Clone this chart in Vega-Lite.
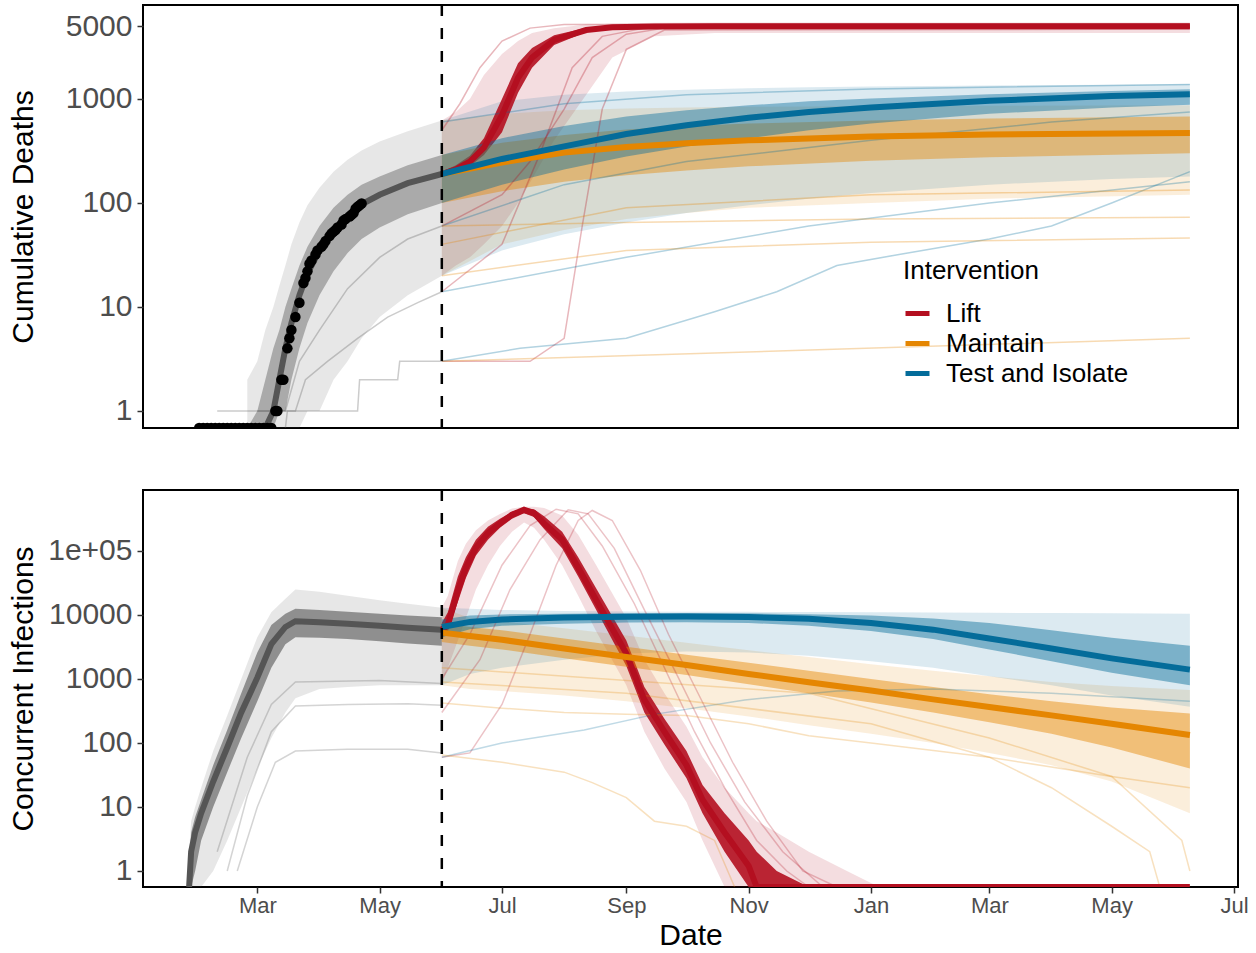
{
"$schema": "https://vega.github.io/schema/vega-lite/v6.json",
"background": "white",
"padding": {"left": 6, "top": 2, "right": 0, "bottom": 0},
"config": {
  "font": "Liberation Sans",
  "view": {"stroke": "black", "strokeWidth": 2},
  "axis": {"domain": false, "grid": false, "labelColor": "#4D4D4D", "tickColor": "#333333", "tickWidth": 1.5, "tickSize": 6, "titleColor": "black", "titleFontWeight": "normal", "titleFontSize": 30},
  "legend": {"orient": "none", "legendX": 760, "legendY": 253, "symbolType": "stroke", "symbolStrokeWidth": 5, "symbolSize": 576, "labelFontSize": 26, "titleFontSize": 26, "titleFontWeight": "normal", "labelColor": "black", "titleColor": "black", "labelOffset": 14, "labelLimit": 0, "rowPadding": 2, "titlePadding": 15}
},
"bounds": "flush",
"spacing": 62,
"resolve": {"scale": {"x": "independent", "y": "independent", "color": "independent", "fill": "independent", "stroke": "independent"}, "legend": {"color": "independent"}},
"datasets": {
"obs": [
{"t":"2020-02-01","deaths":0.686},{"t":"2020-02-03","deaths":0.686},{"t":"2020-02-05","deaths":0.686},{"t":"2020-02-07","deaths":0.686},{"t":"2020-02-09","deaths":0.686},{"t":"2020-02-11","deaths":0.686},{"t":"2020-02-13","deaths":0.686},{"t":"2020-02-15","deaths":0.686},{"t":"2020-02-17","deaths":0.686},{"t":"2020-02-19","deaths":0.686},{"t":"2020-02-21","deaths":0.686},{"t":"2020-02-23","deaths":0.686},{"t":"2020-02-25","deaths":0.686},{"t":"2020-02-27","deaths":0.686},{"t":"2020-02-29","deaths":0.686},{"t":"2020-03-02","deaths":0.686},{"t":"2020-03-04","deaths":0.686},{"t":"2020-03-06","deaths":0.686},{"t":"2020-03-08","deaths":0.686},
{"t":"2020-03-10","deaths":1},{"t":"2020-03-11","deaths":1},{"t":"2020-03-13","deaths":2},{"t":"2020-03-14","deaths":2},{"t":"2020-03-16","deaths":4},{"t":"2020-03-17","deaths":5},{"t":"2020-03-18","deaths":6},{"t":"2020-03-20","deaths":8},{"t":"2020-03-22","deaths":11},{"t":"2020-03-24","deaths":17},{"t":"2020-03-25","deaths":19},{"t":"2020-03-26","deaths":22},{"t":"2020-03-27","deaths":26},{"t":"2020-03-28","deaths":28},{"t":"2020-03-30","deaths":32},{"t":"2020-03-31","deaths":35},{"t":"2020-04-02","deaths":38},{"t":"2020-04-03","deaths":40},{"t":"2020-04-04","deaths":43},{"t":"2020-04-06","deaths":48},{"t":"2020-04-07","deaths":51},{"t":"2020-04-08","deaths":53},{"t":"2020-04-09","deaths":55},{"t":"2020-04-10","deaths":58},{"t":"2020-04-12","deaths":62},{"t":"2020-04-13","deaths":68},{"t":"2020-04-14","deaths":70},{"t":"2020-04-16","deaths":74},{"t":"2020-04-17","deaths":77},{"t":"2020-04-18","deaths":80},{"t":"2020-04-19","deaths":88},{"t":"2020-04-20","deaths":92},{"t":"2020-04-21","deaths":95},{"t":"2020-04-22","deaths":99}
],
"bandsD": [
{"t":"2020-02-25","g":"Gray","olo":0.686,"ilo":0.686,"med":0.686,"ihi":0.686,"ohi":2},
{"t":"2020-03-01","g":"Gray","olo":0.686,"ilo":0.686,"med":0.686,"ihi":1,"ohi":3},
{"t":"2020-03-05","g":"Gray","olo":0.686,"ilo":0.686,"med":0.686,"ihi":2,"ohi":6},
{"t":"2020-03-09","g":"Gray","olo":0.686,"ilo":0.686,"med":1,"ihi":4,"ohi":10},
{"t":"2020-03-12","g":"Gray","olo":0.686,"ilo":1,"med":2,"ihi":6,"ohi":16},
{"t":"2020-03-15","g":"Gray","olo":0.686,"ilo":1,"med":4,"ihi":10,"ohi":25},
{"t":"2020-03-18","g":"Gray","olo":0.686,"ilo":2,"med":7,"ihi":15,"ohi":40},
{"t":"2020-03-22","g":"Gray","olo":0.686,"ilo":4,"med":13,"ihi":25,"ohi":65},
{"t":"2020-03-26","g":"Gray","olo":1,"ilo":7,"med":21,"ihi":38,"ohi":95},
{"t":"2020-04-01","g":"Gray","olo":1,"ilo":13,"med":35,"ihi":60,"ohi":140},
{"t":"2020-04-08","g":"Gray","olo":2,"ilo":22,"med":55,"ihi":90,"ohi":200},
{"t":"2020-04-15","g":"Gray","olo":3,"ilo":33,"med":75,"ihi":120,"ohi":260},
{"t":"2020-04-22","g":"Gray","olo":5,"ilo":45,"med":97,"ihi":150,"ohi":320},
{"t":"2020-05-01","g":"Gray","olo":8,"ilo":58,"med":120,"ihi":180,"ohi":390},
{"t":"2020-05-15","g":"Gray","olo":13,"ilo":78,"med":155,"ihi":230,"ohi":490},
{"t":"2020-06-01","g":"Gray","olo":20,"ilo":100,"med":190,"ihi":290,"ohi":620},
{"t":"2020-06-01","g":"Lift","olo":20,"ilo":180,"med":190,"ihi":200,"ohi":620},
{"t":"2020-06-08","g":"Lift","olo":25,"ilo":195,"med":210,"ihi":230,"ohi":750},
{"t":"2020-06-15","g":"Lift","olo":30,"ilo":225,"med":250,"ihi":285,"ohi":1000},
{"t":"2020-06-22","g":"Lift","olo":40,"ilo":290,"med":340,"ihi":420,"ohi":1700},
{"t":"2020-07-01","g":"Lift","olo":60,"ilo":480,"med":700,"ihi":1000,"ohi":2700},
{"t":"2020-07-09","g":"Lift","olo":100,"ilo":1150,"med":1600,"ihi":2200,"ohi":3600},
{"t":"2020-07-16","g":"Lift","olo":170,"ilo":2000,"med":2500,"ihi":3100,"ohi":4300},
{"t":"2020-07-27","g":"Lift","olo":400,"ilo":3300,"med":3700,"ihi":4100,"ohi":4800},
{"t":"2020-08-12","g":"Lift","olo":1100,"ilo":4400,"med":4600,"ihi":4850,"ohi":5200},
{"t":"2020-08-25","g":"Lift","olo":2500,"ilo":4700,"med":4900,"ihi":5050,"ohi":5300},
{"t":"2020-09-15","g":"Lift","olo":4000,"ilo":4800,"med":4980,"ihi":5150,"ohi":5400},
{"t":"2020-10-15","g":"Lift","olo":4300,"ilo":4800,"med":5000,"ihi":5200,"ohi":5450},
{"t":"2021-06-09","g":"Lift","olo":4300,"ilo":4800,"med":5000,"ihi":5200,"ohi":5450},
{"t":"2020-06-01","g":"Maintain","olo":20,"ilo":100,"med":190,"ihi":290,"ohi":620},
{"t":"2020-07-01","g":"Maintain","olo":40,"ilo":130,"med":245,"ihi":380,"ohi":720},
{"t":"2020-08-01","g":"Maintain","olo":55,"ilo":160,"med":305,"ihi":450,"ohi":780},
{"t":"2020-09-01","g":"Maintain","olo":70,"ilo":185,"med":345,"ihi":510,"ohi":810},
{"t":"2020-10-01","g":"Maintain","olo":80,"ilo":205,"med":375,"ihi":550,"ohi":830},
{"t":"2020-11-01","g":"Maintain","olo":90,"ilo":225,"med":400,"ihi":580,"ohi":840},
{"t":"2021-01-01","g":"Maintain","olo":100,"ilo":255,"med":435,"ihi":620,"ohi":850},
{"t":"2021-03-01","g":"Maintain","olo":110,"ilo":275,"med":455,"ihi":650,"ohi":860},
{"t":"2021-06-09","g":"Maintain","olo":120,"ilo":300,"med":470,"ihi":680,"ohi":870},
{"t":"2020-06-01","g":"Test and Isolate","olo":20,"ilo":100,"med":190,"ihi":290,"ohi":620},
{"t":"2020-07-01","g":"Test and Isolate","olo":35,"ilo":150,"med":265,"ihi":420,"ohi":950},
{"t":"2020-08-01","g":"Test and Isolate","olo":50,"ilo":210,"med":350,"ihi":550,"ohi":1100},
{"t":"2020-09-01","g":"Test and Isolate","olo":65,"ilo":280,"med":460,"ihi":680,"ohi":1180},
{"t":"2020-10-01","g":"Test and Isolate","olo":80,"ilo":350,"med":560,"ihi":780,"ohi":1230},
{"t":"2020-11-01","g":"Test and Isolate","olo":95,"ilo":420,"med":660,"ihi":870,"ohi":1270},
{"t":"2020-12-01","g":"Test and Isolate","olo":110,"ilo":500,"med":750,"ihi":950,"ohi":1300},
{"t":"2021-01-01","g":"Test and Isolate","olo":125,"ilo":580,"med":830,"ihi":1010,"ohi":1320},
{"t":"2021-03-01","g":"Test and Isolate","olo":150,"ilo":720,"med":960,"ihi":1110,"ohi":1350},
{"t":"2021-05-01","g":"Test and Isolate","olo":170,"ilo":830,"med":1070,"ihi":1190,"ohi":1370},
{"t":"2021-06-09","g":"Test and Isolate","olo":180,"ilo":880,"med":1110,"ihi":1240,"ohi":1390}
],
"runsD": [
{"t":"2020-03-01","g":"Gray","r":"gA","v":1},{"t":"2020-03-20","g":"Gray","r":"gA","v":1},{"t":"2020-03-25","g":"Gray","r":"gA","v":2},{"t":"2020-04-05","g":"Gray","r":"gA","v":3},{"t":"2020-04-20","g":"Gray","r":"gA","v":5},{"t":"2020-05-05","g":"Gray","r":"gA","v":8},{"t":"2020-05-20","g":"Gray","r":"gA","v":11},{"t":"2020-06-01","g":"Gray","r":"gA","v":14},
{"t":"2020-02-10","g":"Gray","r":"gB","v":1},{"t":"2020-03-15","g":"Gray","r":"gB","v":1},{"t":"2020-03-22","g":"Gray","r":"gB","v":3},{"t":"2020-04-01","g":"Gray","r":"gB","v":6},{"t":"2020-04-15","g":"Gray","r":"gB","v":15},{"t":"2020-05-01","g":"Gray","r":"gB","v":30},{"t":"2020-05-15","g":"Gray","r":"gB","v":45},{"t":"2020-06-01","g":"Gray","r":"gB","v":60},
{"t":"2020-03-15","g":"Gray","r":"gC","v":0.686},{"t":"2020-03-16","g":"Gray","r":"gC","v":1},{"t":"2020-04-20","g":"Gray","r":"gC","v":1},{"t":"2020-04-21","g":"Gray","r":"gC","v":2},{"t":"2020-05-10","g":"Gray","r":"gC","v":2},{"t":"2020-05-11","g":"Gray","r":"gC","v":3},{"t":"2020-06-01","g":"Gray","r":"gC","v":3},
{"t":"2020-06-01","g":"Lift","r":"rA","v":60},{"t":"2020-07-01","g":"Lift","r":"rA","v":120},{"t":"2020-07-15","g":"Lift","r":"rA","v":250},{"t":"2020-08-01","g":"Lift","r":"rA","v":800},{"t":"2020-08-15","g":"Lift","r":"rA","v":2500},{"t":"2020-09-01","g":"Lift","r":"rA","v":4200},{"t":"2020-09-20","g":"Lift","r":"rA","v":4800},{"t":"2021-06-09","g":"Lift","r":"rA","v":4850},
{"t":"2020-06-01","g":"Lift","r":"rB","v":3},{"t":"2020-07-15","g":"Lift","r":"rB","v":3},{"t":"2020-08-01","g":"Lift","r":"rB","v":5},{"t":"2020-08-10","g":"Lift","r":"rB","v":60},{"t":"2020-08-20","g":"Lift","r":"rB","v":800},{"t":"2020-09-01","g":"Lift","r":"rB","v":3000},{"t":"2020-09-20","g":"Lift","r":"rB","v":4600},{"t":"2021-06-09","g":"Lift","r":"rB","v":4700},
{"t":"2020-06-01","g":"Lift","r":"rC","v":500},{"t":"2020-06-10","g":"Lift","r":"rC","v":900},{"t":"2020-06-20","g":"Lift","r":"rC","v":2000},{"t":"2020-07-01","g":"Lift","r":"rC","v":3600},{"t":"2020-07-15","g":"Lift","r":"rC","v":4800},{"t":"2020-08-01","g":"Lift","r":"rC","v":5200},{"t":"2021-06-09","g":"Lift","r":"rC","v":5300},
{"t":"2020-06-01","g":"Lift","r":"rD","v":14},{"t":"2020-07-01","g":"Lift","r":"rD","v":40},{"t":"2020-07-20","g":"Lift","r":"rD","v":300},{"t":"2020-08-05","g":"Lift","r":"rD","v":2000},{"t":"2020-08-20","g":"Lift","r":"rD","v":4000},{"t":"2020-09-10","g":"Lift","r":"rD","v":4800},{"t":"2021-06-09","g":"Lift","r":"rD","v":4900},
{"t":"2020-06-01","g":"Test and Isolate","r":"bA","v":3},{"t":"2020-07-10","g":"Test and Isolate","r":"bA","v":4},{"t":"2020-09-01","g":"Test and Isolate","r":"bA","v":5},{"t":"2020-10-15","g":"Test and Isolate","r":"bA","v":9},{"t":"2020-11-15","g":"Test and Isolate","r":"bA","v":14},{"t":"2020-12-15","g":"Test and Isolate","r":"bA","v":25},{"t":"2021-01-15","g":"Test and Isolate","r":"bA","v":32},{"t":"2021-03-01","g":"Test and Isolate","r":"bA","v":45},{"t":"2021-04-01","g":"Test and Isolate","r":"bA","v":60},{"t":"2021-05-01","g":"Test and Isolate","r":"bA","v":100},{"t":"2021-06-09","g":"Test and Isolate","r":"bA","v":200},
{"t":"2020-06-01","g":"Test and Isolate","r":"bB","v":600},{"t":"2020-08-01","g":"Test and Isolate","r":"bB","v":900},{"t":"2020-10-01","g":"Test and Isolate","r":"bB","v":1100},{"t":"2021-01-01","g":"Test and Isolate","r":"bB","v":1250},{"t":"2021-06-09","g":"Test and Isolate","r":"bB","v":1380},
{"t":"2020-06-01","g":"Test and Isolate","r":"bC","v":60},{"t":"2020-08-01","g":"Test and Isolate","r":"bC","v":150},{"t":"2020-10-01","g":"Test and Isolate","r":"bC","v":250},{"t":"2021-01-01","g":"Test and Isolate","r":"bC","v":400},{"t":"2021-04-01","g":"Test and Isolate","r":"bC","v":600},{"t":"2021-06-09","g":"Test and Isolate","r":"bC","v":750},
{"t":"2020-06-01","g":"Test and Isolate","r":"bD","v":14},{"t":"2020-09-01","g":"Test and Isolate","r":"bD","v":30},{"t":"2020-12-01","g":"Test and Isolate","r":"bD","v":60},{"t":"2021-03-01","g":"Test and Isolate","r":"bD","v":100},{"t":"2021-06-09","g":"Test and Isolate","r":"bD","v":160},
{"t":"2020-06-01","g":"Maintain","r":"oA","v":20},{"t":"2020-09-01","g":"Maintain","r":"oA","v":35},{"t":"2021-01-01","g":"Maintain","r":"oA","v":42},{"t":"2021-06-09","g":"Maintain","r":"oA","v":46},
{"t":"2020-06-01","g":"Maintain","r":"oB","v":60},{"t":"2020-09-01","g":"Maintain","r":"oB","v":65},{"t":"2021-01-01","g":"Maintain","r":"oB","v":70},{"t":"2021-06-09","g":"Maintain","r":"oB","v":73},
{"t":"2020-06-01","g":"Maintain","r":"oC","v":3},{"t":"2021-06-09","g":"Maintain","r":"oC","v":5},
{"t":"2020-06-01","g":"Maintain","r":"oD","v":40},{"t":"2020-09-01","g":"Maintain","r":"oD","v":90},{"t":"2021-01-01","g":"Maintain","r":"oD","v":120},{"t":"2021-06-09","g":"Maintain","r":"oD","v":133}
],
"bandsI": [
{"t":"2020-01-27","g":"Gray","olo":0.562,"ilo":0.562,"med":0.562,"ihi":1,"ohi":2},
{"t":"2020-01-28","g":"Gray","olo":0.562,"ilo":0.562,"med":2,"ihi":4,"ohi":6},
{"t":"2020-01-30","g":"Gray","olo":0.562,"ilo":1,"med":4,"ihi":7,"ohi":10},
{"t":"2020-02-02","g":"Gray","olo":0.562,"ilo":3,"med":8,"ihi":13,"ohi":20},
{"t":"2020-02-08","g":"Gray","olo":1,"ilo":10,"med":25,"ihi":45,"ohi":75},
{"t":"2020-02-15","g":"Gray","olo":3,"ilo":35,"med":85,"ihi":160,"ohi":270},
{"t":"2020-02-22","g":"Gray","olo":10,"ilo":120,"med":300,"ihi":600,"ohi":1000},
{"t":"2020-03-01","g":"Gray","olo":40,"ilo":450,"med":1050,"ihi":2600,"ohi":4500},
{"t":"2020-03-08","g":"Gray","olo":120,"ilo":1500,"med":3500,"ihi":7000,"ohi":11000},
{"t":"2020-03-15","g":"Gray","olo":300,"ilo":3500,"med":6500,"ihi":10500,"ohi":18000},
{"t":"2020-03-20","g":"Gray","olo":500,"ilo":4500,"med":8000,"ihi":12500,"ohi":25000},
{"t":"2020-04-01","g":"Gray","olo":700,"ilo":4400,"med":7700,"ihi":12000,"ohi":23000},
{"t":"2020-04-15","g":"Gray","olo":750,"ilo":4200,"med":7300,"ihi":11200,"ohi":20000},
{"t":"2020-05-01","g":"Gray","olo":800,"ilo":3900,"med":6800,"ihi":10500,"ohi":17000},
{"t":"2020-05-15","g":"Gray","olo":800,"ilo":3600,"med":6300,"ihi":9800,"ohi":15000},
{"t":"2020-06-01","g":"Gray","olo":800,"ilo":3300,"med":5900,"ihi":9200,"ohi":13000},
{"t":"2020-06-01","g":"Lift","olo":800,"ilo":4500,"med":5900,"ihi":7500,"ohi":13000},
{"t":"2020-06-04","g":"Lift","olo":1500,"ilo":5500,"med":7000,"ihi":11000,"ohi":20000},
{"t":"2020-06-09","g":"Lift","olo":4000,"ilo":16000,"med":24000,"ihi":40000,"ohi":70000},
{"t":"2020-06-13","g":"Lift","olo":9000,"ilo":38000,"med":55000,"ihi":80000,"ohi":130000},
{"t":"2020-06-18","g":"Lift","olo":25000,"ilo":85000,"med":113000,"ihi":150000,"ohi":210000},
{"t":"2020-06-24","g":"Lift","olo":60000,"ilo":150000,"med":190000,"ihi":240000,"ohi":300000},
{"t":"2020-06-30","g":"Lift","olo":120000,"ilo":230000,"med":270000,"ihi":320000,"ohi":380000},
{"t":"2020-07-06","g":"Lift","olo":200000,"ilo":320000,"med":370000,"ihi":410000,"ohi":460000},
{"t":"2020-07-12","g":"Lift","olo":280000,"ilo":390000,"med":440000,"ihi":470000,"ohi":490000},
{"t":"2020-07-17","g":"Lift","olo":230000,"ilo":340000,"med":390000,"ihi":450000,"ohi":490000},
{"t":"2020-07-22","g":"Lift","olo":150000,"ilo":220000,"med":270000,"ihi":350000,"ohi":470000},
{"t":"2020-07-31","g":"Lift","olo":60000,"ilo":110000,"med":150000,"ihi":200000,"ohi":360000},
{"t":"2020-08-08","g":"Lift","olo":20000,"ilo":40000,"med":55000,"ihi":80000,"ohi":180000},
{"t":"2020-08-17","g":"Lift","olo":5500,"ilo":12000,"med":17000,"ihi":26000,"ohi":60000},
{"t":"2020-09-01","g":"Lift","olo":800,"ilo":1600,"med":2500,"ihi":4000,"ohi":9000},
{"t":"2020-09-10","g":"Lift","olo":150,"ilo":300,"med":470,"ihi":750,"ohi":2000},
{"t":"2020-09-20","g":"Lift","olo":40,"ilo":95,"med":150,"ihi":240,"ohi":600},
{"t":"2020-10-01","g":"Lift","olo":12,"ilo":28,"med":45,"ihi":75,"ohi":180},
{"t":"2020-10-09","g":"Lift","olo":3,"ilo":8,"med":13,"ihi":22,"ohi":60},
{"t":"2020-10-20","g":"Lift","olo":0.562,"ilo":2,"med":4,"ihi":8,"ohi":20},
{"t":"2020-11-01","g":"Lift","olo":0.562,"ilo":0.562,"med":1.2,"ihi":3,"ohi":8},
{"t":"2020-11-05","g":"Lift","olo":0.562,"ilo":0.562,"med":0.562,"ihi":2,"ohi":6},
{"t":"2020-11-15","g":"Lift","olo":0.562,"ilo":0.562,"med":0.562,"ihi":1,"ohi":4},
{"t":"2020-12-01","g":"Lift","olo":0.562,"ilo":0.562,"med":0.562,"ihi":0.562,"ohi":2},
{"t":"2020-12-20","g":"Lift","olo":0.562,"ilo":0.562,"med":0.562,"ihi":0.562,"ohi":1},
{"t":"2021-01-05","g":"Lift","olo":0.562,"ilo":0.562,"med":0.562,"ihi":0.562,"ohi":0.562},
{"t":"2021-06-09","g":"Lift","olo":0.562,"ilo":0.562,"med":0.562,"ihi":0.562,"ohi":0.562},
{"t":"2020-06-01","g":"Maintain","olo":800,"ilo":3800,"med":5300,"ihi":7500,"ohi":13000},
{"t":"2020-06-15","g":"Maintain","olo":700,"ilo":3300,"med":4700,"ihi":6500,"ohi":9000},
{"t":"2020-07-01","g":"Maintain","olo":650,"ilo":2900,"med":4100,"ihi":5800,"ohi":8000},
{"t":"2020-08-01","g":"Maintain","olo":550,"ilo":2100,"med":3000,"ihi":4300,"ohi":6200},
{"t":"2020-09-01","g":"Maintain","olo":450,"ilo":1550,"med":2200,"ihi":3200,"ohi":4800},
{"t":"2020-10-01","g":"Maintain","olo":350,"ilo":1150,"med":1650,"ihi":2400,"ohi":3700},
{"t":"2020-11-01","g":"Maintain","olo":260,"ilo":830,"med":1200,"ihi":1800,"ohi":2800},
{"t":"2020-12-01","g":"Maintain","olo":190,"ilo":600,"med":890,"ihi":1350,"ohi":2200},
{"t":"2021-01-01","g":"Maintain","olo":140,"ilo":430,"med":660,"ihi":1000,"ohi":1700},
{"t":"2021-02-01","g":"Maintain","olo":100,"ilo":300,"med":480,"ihi":750,"ohi":1350},
{"t":"2021-03-01","g":"Maintain","olo":70,"ilo":210,"med":365,"ihi":580,"ohi":1100},
{"t":"2021-04-01","g":"Maintain","olo":45,"ilo":140,"med":270,"ihi":450,"ohi":900},
{"t":"2021-05-01","g":"Maintain","olo":25,"ilo":85,"med":200,"ihi":360,"ohi":780},
{"t":"2021-06-09","g":"Maintain","olo":8,"ilo":40,"med":133,"ihi":290,"ohi":670},
{"t":"2020-06-01","g":"Test and Isolate","olo":800,"ilo":4500,"med":6500,"ihi":8500,"ohi":13000},
{"t":"2020-06-15","g":"Test and Isolate","olo":1200,"ilo":6000,"med":7800,"ihi":9800,"ohi":12500},
{"t":"2020-07-01","g":"Test and Isolate","olo":1500,"ilo":6800,"med":8500,"ihi":10200,"ohi":12000},
{"t":"2020-08-01","g":"Test and Isolate","olo":2000,"ilo":7300,"med":9100,"ihi":10500,"ohi":11500},
{"t":"2020-09-01","g":"Test and Isolate","olo":2500,"ilo":7600,"med":9400,"ihi":10600,"ohi":11300},
{"t":"2020-10-01","g":"Test and Isolate","olo":2700,"ilo":7700,"med":9500,"ihi":10700,"ohi":11200},
{"t":"2020-11-01","g":"Test and Isolate","olo":2600,"ilo":7500,"med":9300,"ihi":10600,"ohi":11200},
{"t":"2020-12-01","g":"Test and Isolate","olo":2300,"ilo":6800,"med":8700,"ihi":10300,"ohi":11100},
{"t":"2021-01-01","g":"Test and Isolate","olo":1900,"ilo":5600,"med":7500,"ihi":9800,"ohi":11000},
{"t":"2021-02-01","g":"Test and Isolate","olo":1500,"ilo":4200,"med":5900,"ihi":8800,"ohi":10900},
{"t":"2021-03-01","g":"Test and Isolate","olo":1100,"ilo":2900,"med":4300,"ihi":7500,"ohi":10800},
{"t":"2021-04-01","g":"Test and Isolate","olo":800,"ilo":1900,"med":3000,"ihi":5800,"ohi":10700},
{"t":"2021-05-01","g":"Test and Isolate","olo":550,"ilo":1250,"med":2100,"ihi":4400,"ohi":10600},
{"t":"2021-06-09","g":"Test and Isolate","olo":370,"ilo":800,"med":1400,"ihi":3300,"ohi":10500}
],
"runsI": [
{"t":"2020-02-20","g":"Gray","r":"gL1","v":1},{"t":"2020-03-01","g":"Gray","r":"gL1","v":10},{"t":"2020-03-10","g":"Gray","r":"gL1","v":50},{"t":"2020-03-20","g":"Gray","r":"gL1","v":75},{"t":"2020-04-15","g":"Gray","r":"gL1","v":80},{"t":"2020-05-15","g":"Gray","r":"gL1","v":80},{"t":"2020-06-01","g":"Gray","r":"gL1","v":70},
{"t":"2020-02-15","g":"Gray","r":"gL2","v":1},{"t":"2020-02-25","g":"Gray","r":"gL2","v":15},{"t":"2020-03-08","g":"Gray","r":"gL2","v":150},{"t":"2020-03-20","g":"Gray","r":"gL2","v":380},{"t":"2020-04-15","g":"Gray","r":"gL2","v":400},{"t":"2020-05-15","g":"Gray","r":"gL2","v":410},{"t":"2020-06-01","g":"Gray","r":"gL2","v":390},
{"t":"2020-02-10","g":"Gray","r":"gL3","v":2},{"t":"2020-02-25","g":"Gray","r":"gL3","v":60},{"t":"2020-03-08","g":"Gray","r":"gL3","v":400},{"t":"2020-03-20","g":"Gray","r":"gL3","v":900},{"t":"2020-05-01","g":"Gray","r":"gL3","v":950},{"t":"2020-06-01","g":"Gray","r":"gL3","v":850},
{"t":"2020-06-01","g":"Lift","r":"rL1","v":1000},{"t":"2020-06-15","g":"Lift","r":"rL1","v":5000},{"t":"2020-07-01","g":"Lift","r":"rL1","v":60000},{"t":"2020-07-15","g":"Lift","r":"rL1","v":250000},{"t":"2020-07-28","g":"Lift","r":"rL1","v":450000},{"t":"2020-08-08","g":"Lift","r":"rL1","v":380000},{"t":"2020-08-20","g":"Lift","r":"rL1","v":120000},{"t":"2020-09-05","g":"Lift","r":"rL1","v":15000},{"t":"2020-09-20","g":"Lift","r":"rL1","v":1500},{"t":"2020-10-05","g":"Lift","r":"rL1","v":150},{"t":"2020-10-20","g":"Lift","r":"rL1","v":20},{"t":"2020-11-05","g":"Lift","r":"rL1","v":3},{"t":"2020-11-20","g":"Lift","r":"rL1","v":1},{"t":"2020-12-01","g":"Lift","r":"rL1","v":0.562},
{"t":"2020-06-01","g":"Lift","r":"rL2","v":300},{"t":"2020-06-20","g":"Lift","r":"rL2","v":2000},{"t":"2020-07-05","g":"Lift","r":"rL2","v":25000},{"t":"2020-07-20","g":"Lift","r":"rL2","v":150000},{"t":"2020-08-03","g":"Lift","r":"rL2","v":440000},{"t":"2020-08-13","g":"Lift","r":"rL2","v":380000},{"t":"2020-08-26","g":"Lift","r":"rL2","v":110000},{"t":"2020-09-10","g":"Lift","r":"rL2","v":12000},{"t":"2020-09-26","g":"Lift","r":"rL2","v":1200},{"t":"2020-10-13","g":"Lift","r":"rL2","v":100},{"t":"2020-10-30","g":"Lift","r":"rL2","v":12},{"t":"2020-11-18","g":"Lift","r":"rL2","v":2},{"t":"2020-12-08","g":"Lift","r":"rL2","v":0.562},
{"t":"2020-06-01","g":"Lift","r":"rL3","v":60},{"t":"2020-06-15","g":"Lift","r":"rL3","v":70},{"t":"2020-07-01","g":"Lift","r":"rL3","v":400},{"t":"2020-07-15","g":"Lift","r":"rL3","v":5000},{"t":"2020-07-28","g":"Lift","r":"rL3","v":60000},{"t":"2020-08-08","g":"Lift","r":"rL3","v":300000},{"t":"2020-08-15","g":"Lift","r":"rL3","v":430000},{"t":"2020-08-25","g":"Lift","r":"rL3","v":300000},{"t":"2020-09-08","g":"Lift","r":"rL3","v":50000},{"t":"2020-09-22","g":"Lift","r":"rL3","v":5000},{"t":"2020-10-08","g":"Lift","r":"rL3","v":500},{"t":"2020-10-24","g":"Lift","r":"rL3","v":50},{"t":"2020-11-10","g":"Lift","r":"rL3","v":6},{"t":"2020-11-28","g":"Lift","r":"rL3","v":1},{"t":"2020-12-15","g":"Lift","r":"rL3","v":0.562},
{"t":"2020-06-01","g":"Test and Isolate","r":"bL1","v":60},{"t":"2020-07-01","g":"Test and Isolate","r":"bL1","v":100},{"t":"2020-08-11","g":"Test and Isolate","r":"bL1","v":160},{"t":"2020-09-15","g":"Test and Isolate","r":"bL1","v":280},{"t":"2020-10-30","g":"Test and Isolate","r":"bL1","v":470},{"t":"2020-12-15","g":"Test and Isolate","r":"bL1","v":650},{"t":"2021-02-01","g":"Test and Isolate","r":"bL1","v":700},{"t":"2021-04-01","g":"Test and Isolate","r":"bL1","v":600},{"t":"2021-06-09","g":"Test and Isolate","r":"bL1","v":450},
{"t":"2020-06-01","g":"Maintain","r":"oL1","v":65},{"t":"2020-07-01","g":"Maintain","r":"oL1","v":50},{"t":"2020-08-01","g":"Maintain","r":"oL1","v":35},{"t":"2020-08-15","g":"Maintain","r":"oL1","v":24},{"t":"2020-09-01","g":"Maintain","r":"oL1","v":14},{"t":"2020-09-15","g":"Maintain","r":"oL1","v":6},{"t":"2020-10-01","g":"Maintain","r":"oL1","v":5},{"t":"2020-10-15","g":"Maintain","r":"oL1","v":3},{"t":"2020-10-25","g":"Maintain","r":"oL1","v":0.562},
{"t":"2020-06-01","g":"Maintain","r":"oL2","v":420},{"t":"2020-07-01","g":"Maintain","r":"oL2","v":350},{"t":"2020-08-01","g":"Maintain","r":"oL2","v":300},{"t":"2020-09-01","g":"Maintain","r":"oL2","v":280},{"t":"2020-10-01","g":"Maintain","r":"oL2","v":270},{"t":"2020-11-01","g":"Maintain","r":"oL2","v":200},{"t":"2020-12-01","g":"Maintain","r":"oL2","v":130},{"t":"2021-01-01","g":"Maintain","r":"oL2","v":100},{"t":"2021-03-01","g":"Maintain","r":"oL2","v":60},{"t":"2021-05-01","g":"Maintain","r":"oL2","v":30},{"t":"2021-06-09","g":"Maintain","r":"oL2","v":20},
{"t":"2020-06-01","g":"Maintain","r":"oL3","v":900},{"t":"2020-09-01","g":"Maintain","r":"oL3","v":600},{"t":"2021-01-01","g":"Maintain","r":"oL3","v":200},{"t":"2021-03-01","g":"Maintain","r":"oL3","v":60},{"t":"2021-04-01","g":"Maintain","r":"oL3","v":20},{"t":"2021-05-01","g":"Maintain","r":"oL3","v":5},{"t":"2021-05-20","g":"Maintain","r":"oL3","v":2},{"t":"2021-05-25","g":"Maintain","r":"oL3","v":0.562},
{"t":"2020-06-01","g":"Maintain","r":"oL4","v":1500},{"t":"2020-12-01","g":"Maintain","r":"oL4","v":600},{"t":"2021-03-01","g":"Maintain","r":"oL4","v":120},{"t":"2021-05-01","g":"Maintain","r":"oL4","v":30},{"t":"2021-06-05","g":"Maintain","r":"oL4","v":3},{"t":"2021-06-09","g":"Maintain","r":"oL4","v":1}
]
},
"vconcat": [
{
  "width": 1095, "height": 423,
  "encoding": {"x": {"field": "t", "type": "temporal", "scale": {"type": "utc", "domain": [{"year": 2020, "month": 1, "date": 4, "utc": true}, {"year": 2021, "month": 7, "date": 3, "utc": true}]}, "axis": null}},
  "layer": [
    {"data": {"name": "bandsD"}, "transform": [{"filter": "datum.g == 'Gray'"}], "mark": {"type": "area", "opacity": 0.14, "color": "#555555", "clip": true},
     "encoding": {"y": {"field": "olo", "type": "quantitative", "title": "Cumulative Deaths", "scale": {"type": "log", "domain": [0.686, 8010], "nice": false},
        "axis": {"values": [1, 10, 100, 1000, 5000], "format": "d", "labelFontSize": 30, "labelPadding": 5, "titleX": -111, "titleBaseline": "alphabetic", "titleFontSize": 30}},
       "y2": {"field": "ohi"}}},
    {"data": {"name": "bandsD"}, "transform": [{"filter": "datum.g == 'Gray'"}], "mark": {"type": "area", "opacity": 0.42, "color": "#555555", "clip": true},
     "encoding": {"y": {"field": "ilo", "type": "quantitative", "title": "Cumulative Deaths", "scale": {"type": "log", "domain": [0.686, 8010], "nice": false}}, "y2": {"field": "ihi"}}},
    {"data": {"name": "bandsD"}, "transform": [{"filter": "datum.g != 'Gray'"}], "mark": {"type": "area", "opacity": 0.14, "clip": true},
     "encoding": {"y": {"field": "olo", "type": "quantitative", "title": "Cumulative Deaths", "scale": {"type": "log", "domain": [0.686, 8010], "nice": false}},
       "y2": {"field": "ohi"},
       "fill": {"field": "g", "type": "nominal", "scale": {"domain": ["Gray", "Lift", "Maintain", "Test and Isolate"], "range": ["#555555", "#B40F20", "#E58601", "#046C9A"]}, "legend": null}}},
    {"data": {"name": "bandsD"}, "transform": [{"filter": "datum.g != 'Gray'"}], "mark": {"type": "area", "clip": true},
     "encoding": {"y": {"field": "ilo", "type": "quantitative", "title": "Cumulative Deaths", "scale": {"type": "log", "domain": [0.686, 8010], "nice": false}},
       "y2": {"field": "ihi"},
       "opacity": {"condition": {"test": "datum.g == 'Lift'", "value": 0.9}, "value": 0.42},
       "fill": {"field": "g", "type": "nominal", "scale": {"domain": ["Gray", "Lift", "Maintain", "Test and Isolate"], "range": ["#555555", "#B40F20", "#E58601", "#046C9A"]}, "legend": null}}},
    {"data": {"name": "runsD"}, "mark": {"type": "line", "strokeWidth": 1.5, "opacity": 0.3, "clip": true},
     "encoding": {"y": {"field": "v", "type": "quantitative", "title": "Cumulative Deaths", "scale": {"type": "log", "domain": [0.686, 8010], "nice": false}},
       "detail": {"field": "r"},
       "stroke": {"field": "g", "type": "nominal", "scale": {"domain": ["Gray", "Lift", "Maintain", "Test and Isolate"], "range": ["#555555", "#B40F20", "#E58601", "#046C9A"]}, "legend": null}}},
    {"data": {"name": "bandsD"}, "transform": [{"filter": "datum.g == 'Gray'"}], "mark": {"type": "line", "strokeWidth": 6, "color": "#555555", "clip": true},
     "encoding": {"y": {"field": "med", "type": "quantitative", "title": "Cumulative Deaths", "scale": {"type": "log", "domain": [0.686, 8010], "nice": false}}}},
    {"data": {"name": "bandsD"}, "transform": [{"filter": "datum.g != 'Gray'"}], "mark": {"type": "line", "strokeWidth": 6, "clip": true},
     "encoding": {"y": {"field": "med", "type": "quantitative", "title": "Cumulative Deaths", "scale": {"type": "log", "domain": [0.686, 8010], "nice": false}},
       "color": {"field": "g", "type": "nominal", "title": "Intervention", "scale": {"domain": ["Lift", "Maintain", "Test and Isolate"], "range": ["#B40F20", "#E58601", "#046C9A"]}}}},
    {"data": {"values": [{"t": "2020-06-01"}]}, "mark": {"type": "rule", "strokeDash": [11, 12], "strokeWidth": 2.5, "color": "black"}, "encoding": {}},
    {"data": {"name": "obs"}, "mark": {"type": "circle", "size": 110, "color": "black", "opacity": 1, "clip": true},
     "encoding": {"y": {"field": "deaths", "type": "quantitative", "title": "Cumulative Deaths", "scale": {"type": "log", "domain": [0.686, 8010], "nice": false}}}}
  ]
},
{
  "width": 1095, "height": 397,
  "encoding": {"x": {"field": "t", "type": "temporal", "title": "Date", "scale": {"type": "utc", "domain": [{"year": 2020, "month": 1, "date": 4, "utc": true}, {"year": 2021, "month": 7, "date": 3, "utc": true}]},
     "axis": {"values": [{"year": 2020, "month": 3, "date": 1, "utc": true}, {"year": 2020, "month": 5, "date": 1, "utc": true}, {"year": 2020, "month": 7, "date": 1, "utc": true}, {"year": 2020, "month": 9, "date": 1, "utc": true}, {"year": 2020, "month": 11, "date": 1, "utc": true}, {"year": 2021, "month": 1, "date": 1, "utc": true}, {"year": 2021, "month": 3, "date": 1, "utc": true}, {"year": 2021, "month": 5, "date": 1, "utc": true}, {"year": 2021, "month": 7, "date": 1, "utc": true}],
       "format": "%b", "labelFontSize": 22, "labelPadding": 2, "titleFontSize": 30, "titlePadding": 4, "labelFlush": false, "labelOverlap": false}}},
  "layer": [
    {"data": {"name": "bandsI"}, "transform": [{"filter": "datum.g == 'Gray'"}], "mark": {"type": "area", "opacity": 0.14, "color": "#555555", "clip": true},
     "encoding": {"y": {"field": "olo", "type": "quantitative", "title": "Concurrent Infections", "scale": {"type": "log", "domain": [0.562, 897600], "nice": false},
        "axis": {"values": [1, 10, 100, 1000, 10000, 100000], "format": "d", "labelExpr": "datum.value >= 100000 ? '1e+05' : datum.label", "labelFontSize": 30, "labelPadding": 5, "titleX": -111, "titleBaseline": "alphabetic", "titleFontSize": 30}},
       "y2": {"field": "ohi"}}},
    {"data": {"name": "bandsI"}, "transform": [{"filter": "datum.g == 'Gray'"}], "mark": {"type": "area", "opacity": 0.6, "color": "#555555", "clip": true},
     "encoding": {"y": {"field": "ilo", "type": "quantitative", "title": "Concurrent Infections", "scale": {"type": "log", "domain": [0.562, 897600], "nice": false}}, "y2": {"field": "ihi"}}},
    {"data": {"name": "bandsI"}, "transform": [{"filter": "datum.g != 'Gray'"}], "mark": {"type": "area", "opacity": 0.14, "clip": true},
     "encoding": {"y": {"field": "olo", "type": "quantitative", "title": "Concurrent Infections", "scale": {"type": "log", "domain": [0.562, 897600], "nice": false}},
       "y2": {"field": "ohi"},
       "fill": {"field": "g", "type": "nominal", "scale": {"domain": ["Gray", "Lift", "Maintain", "Test and Isolate"], "range": ["#555555", "#B40F20", "#E58601", "#046C9A"]}, "legend": null}}},
    {"data": {"name": "bandsI"}, "transform": [{"filter": "datum.g != 'Gray'"}], "mark": {"type": "area", "clip": true},
     "encoding": {"y": {"field": "ilo", "type": "quantitative", "title": "Concurrent Infections", "scale": {"type": "log", "domain": [0.562, 897600], "nice": false}},
       "y2": {"field": "ihi"},
       "opacity": {"condition": {"test": "datum.g == 'Lift'", "value": 0.9}, "value": 0.45},
       "fill": {"field": "g", "type": "nominal", "scale": {"domain": ["Gray", "Lift", "Maintain", "Test and Isolate"], "range": ["#555555", "#B40F20", "#E58601", "#046C9A"]}, "legend": null}}},
    {"data": {"name": "runsI"}, "mark": {"type": "line", "strokeWidth": 1.5, "opacity": 0.25, "clip": true},
     "encoding": {"y": {"field": "v", "type": "quantitative", "title": "Concurrent Infections", "scale": {"type": "log", "domain": [0.562, 897600], "nice": false}},
       "detail": {"field": "r"},
       "stroke": {"field": "g", "type": "nominal", "scale": {"domain": ["Gray", "Lift", "Maintain", "Test and Isolate"], "range": ["#555555", "#B40F20", "#E58601", "#046C9A"]}, "legend": null}}},
    {"data": {"name": "bandsI"}, "mark": {"type": "line", "strokeWidth": 6, "clip": true},
     "encoding": {"y": {"field": "med", "type": "quantitative", "title": "Concurrent Infections", "scale": {"type": "log", "domain": [0.562, 897600], "nice": false}},
       "detail": {"field": "g"},
       "stroke": {"field": "g", "type": "nominal", "scale": {"domain": ["Gray", "Lift", "Maintain", "Test and Isolate"], "range": ["#555555", "#B40F20", "#E58601", "#046C9A"]}, "legend": null}}},
    {"data": {"values": [{"t": "2020-06-01"}]}, "mark": {"type": "rule", "strokeDash": [11, 12], "strokeWidth": 2.5, "color": "black"}, "encoding": {}}
  ]
}
]
}
